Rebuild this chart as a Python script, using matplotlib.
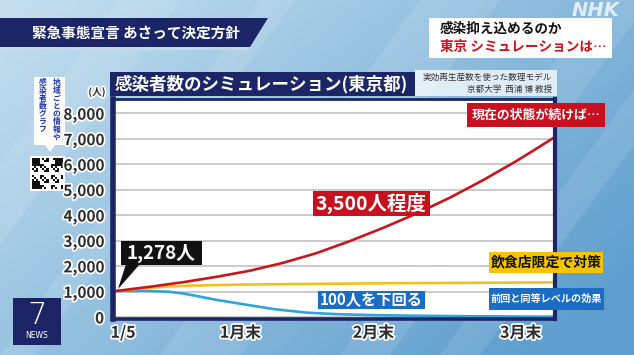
import matplotlib
matplotlib.use('Agg')
import matplotlib.pyplot as plt
import matplotlib.patheffects as pe
import matplotlib.transforms as mtransforms
from matplotlib.patches import Rectangle, Polygon
import numpy as np

plt.rcParams['font.family'] = ['Noto Sans CJK JP', 'DejaVu Sans']

# ---- data (days after 1/5, infections per day in Tokyo) ----
red_days = [0, 7, 14, 21, 28, 35, 42, 49, 56, 63, 70, 77, 84, 88, 92]
red_vals = [1024, 1190, 1370, 1580, 1820, 2130, 2510, 2980, 3500, 4060, 4680, 5370, 6120, 6580, 7050]
yel_days = [0, 5, 10, 15, 25, 40, 60, 92]
yel_vals = [1024, 1120, 1190, 1230, 1270, 1300, 1330, 1360]
blu_days = [0, 6, 11, 14, 17.5, 21, 26, 33, 40, 47, 55, 63, 75, 92]
blu_vals = [1024, 1030, 990, 920, 800, 670, 520, 310, 170, 105, 70, 50, 28, 12]
tick_days = [0, 26, 54, 85]
tick_names = ['1/5', '1月末', '2月末', '3月末']
y_ticks = list(range(0, 9000, 1000))

NAVY = '#1c2566'
W, H = 634, 355


def px2fig(x0, y0, x1, y1):
    return [x0 / W, 1 - y1 / H, (x1 - x0) / W, (y1 - y0) / H]


fig = plt.figure(figsize=(W / 100, H / 100), dpi=100)

# ---- background ----
bg = fig.add_axes([0, 0, 1, 1])
bg.set_xlim(0, W)
bg.set_ylim(H, 0)
bg.axis('off')
xx, yy = np.meshgrid(np.linspace(0, 1, W), np.linspace(0, 1, H))
t = np.clip(xx * 0.65 + yy * 0.45, 0, 1)[..., None]
c0 = np.array([0.78, 0.88, 0.94])
c1 = np.array([0.37, 0.62, 0.81])
bg.imshow(c0 * (1 - t) + c1 * t, extent=(0, W, H, 0), aspect='auto', zorder=0)
for sx, sw in [(120, 60), (260, 35), (420, 80), (600, 50), (700, 40)]:
    bg.add_patch(Polygon([(sx, 0), (sx + sw, 0), (sx + sw - 260, H), (sx - 260, H)],
                         fc='white', alpha=0.10, ec='none', zorder=1))

# header banner
bg.add_patch(Polygon([(0, 18), (268, 18), (250, 47), (0, 47)], fc=NAVY, ec='none', zorder=2))
bg.add_patch(Rectangle((0, 47), 250, 3, fc='#c9dcea', alpha=0.7, ec='none', zorder=2))
bg.text(32, 33, '緊急事態宣言 あさって決定方針', color='white', fontsize=10.5,
        fontweight='bold', va='center', zorder=3)

# top right box
bg.add_patch(Rectangle((429, 18), 183, 40, fc='white', ec='none', zorder=2))
bg.text(440, 29, '感染抑え込めるのか', color='#111111', fontsize=9.8, fontweight='bold',
        va='center', zorder=3)
bg.text(440, 47, '東京 シミュレーションは…', color='#d0101a', fontsize=9.8, fontweight='bold',
        va='center', zorder=3)
bg.text(596, 10, 'NHK', color='white', alpha=0.75, fontsize=14, fontweight='bold',
        style='italic', ha='center', va='center', family='DejaVu Sans', zorder=3)

# QR callout with vertical text
bg.add_patch(Rectangle((34, 77), 31, 68, fc='white', ec='none', zorder=2))
bg.add_patch(Polygon([(45, 145), (55, 145), (50, 152)], fc='white', ec='none', zorder=2))
for col, txt in [(56.5, '地域ごとの情報や'), (43, '感染者数グラフ')]:
    for k, ch in enumerate(txt):
        bg.text(col, 83 + k * 7.7, ch, color='#1f33a8', fontsize=5.6,
                fontweight='bold', ha='center', va='center', zorder=3)
bg.add_patch(Rectangle((30, 156), 35, 35, fc='white', ec='none', zorder=2))
n = 15
cell = 31 / n
for i in range(n):
    for j in range(n):
        fin = (i < 4 and j < 4) or (i < 4 and j > n - 5) or (i > n - 5 and j < 4)
        if fin:
            on = i in (0, 3, n - 4, n - 1) or j in (0, 3, n - 4, n - 1) or \
                 (i in (1, 2, n - 3, n - 2) and j in (1, 2, n - 3, n - 2))
        else:
            on = (i * 7 + j * 3 + i * j) % 5 < 2
        if on:
            bg.add_patch(Rectangle((32 + j * cell, 158 + i * cell), cell, cell,
                                   fc='#111111', ec='none', zorder=3))

# 7 NEWS logo
bg.add_patch(Rectangle((13, 298), 48, 47, fc='#1d2466', ec='none', zorder=2))
bg.text(37, 315, '7', color='white', fontsize=22, ha='center', va='center',
        family='DejaVu Sans', fontweight='light', zorder=3)
bg.text(37, 336, 'NEWS', color='white', fontsize=5.5, ha='center', va='center',
        family='DejaVu Sans', zorder=3)

# ---- chart ----
ax = fig.add_axes(px2fig(113, 98.5, 555, 318.5))
ax.set_xlim((113 - 117) / 4.75, (555 - 117) / 4.75)
ax.set_ylim((317 - 318.5) * 1000 / 25.45, (317 - 98.5) * 1000 / 25.45)
ax.set_facecolor('white')
for side, lw in [('left', 4), ('right', 3), ('bottom', 2.6), ('top', 2)]:
    ax.spines[side].set_color(NAVY)
    ax.spines[side].set_linewidth(lw)
ax.set_yticks(y_ticks)
ax.set_yticklabels([f'{v:,}' for v in y_ticks])
ax.yaxis.grid(True, color='#bdbdbd', lw=1.1)
ax.set_axisbelow(True)
ax.set_xticks(tick_days)
ax.set_xticklabels(tick_names)
ax.tick_params(axis='both', length=0, labelsize=11, labelcolor='#2c2c2c')
ax.tick_params(axis='y', pad=6.5)
ax.tick_params(axis='x', pad=4.5)
ax.tick_params(axis='x', labelsize=11.5)
stroke = [pe.withStroke(linewidth=2.5, foreground='white')]
for lab in ax.get_xticklabels() + ax.get_yticklabels():
    lab.set_fontweight('bold')
    lab.set_path_effects(stroke)
# "1/5" sits a little right of the first day
first = ax.get_xticklabels()[0]
first.set_transform(first.get_transform() +
                    mtransforms.ScaledTranslation(6 / 100, 0, fig.dpi_scale_trans))

ax.plot(blu_days, blu_vals, color='#30a2de', lw=1.9)
ax.plot(yel_days, yel_vals, color='#f3c11b', lw=1.9)
ax.plot(red_days, red_vals, color='#c8161d', lw=1.9)

# ---- overlay (titles and callouts) ----
ov = fig.add_axes([0, 0, 1, 1])
ov.set_xlim(0, W)
ov.set_ylim(H, 0)
ov.axis('off')

ov.text(97, 92, '(人)', color='#2c2c2c', fontsize=7, fontweight='bold', ha='center',
        va='center', path_effects=stroke)

ov.add_patch(Rectangle((110, 72), 305, 24, fc=NAVY, ec='none'))
ov.text(115, 84, '感染者数のシミュレーション(東京都)', color='white', fontsize=12.6,
        fontweight='bold', va='center')
ov.add_patch(Rectangle((415, 70), 142, 26, fc='white', alpha=0.75, ec='none'))
ov.text(552, 77.5, '実効再生産数を使った数理モデル', color='#333333', fontsize=6.2,
        ha='right', va='center')
ov.text(552, 89.5, '京都大学  西浦 博 教授', color='#333333', fontsize=6.2,
        ha='right', va='center')


def box(x0, y0, x1, y1, fc, txt, tc, fs):
    ov.add_patch(Rectangle((x0, y0), x1 - x0, y1 - y0, fc=fc, ec='none'))
    ov.text((x0 + x1) / 2, (y0 + y1) / 2, txt, color=tc, fontsize=fs,
            fontweight='bold', ha='center', va='center')


ov.add_patch(Polygon([(126, 264), (140, 264), (118, 289)], fc='#111111', ec='none'))
box(121, 241, 202, 265, '#111111', '1,278人', 'white', 13.5)
box(313, 191, 430, 216, '#c8101e', '3,500人程度', 'white', 14)
box(467, 103, 605, 127, '#c8101e', '現在の状態が続けば…', 'white', 9.3)
box(489, 252, 603, 273, '#f5c400', '飲食店限定で対策', '#111111', 10)
box(318, 291, 425, 309, '#1a6cc4', '100人を下回る', 'white', 11)
box(489, 288, 604, 310, '#1a6cc4', '前回と同等レベルの効果', 'white', 7.3)

fig.savefig('out.png', dpi=100)
